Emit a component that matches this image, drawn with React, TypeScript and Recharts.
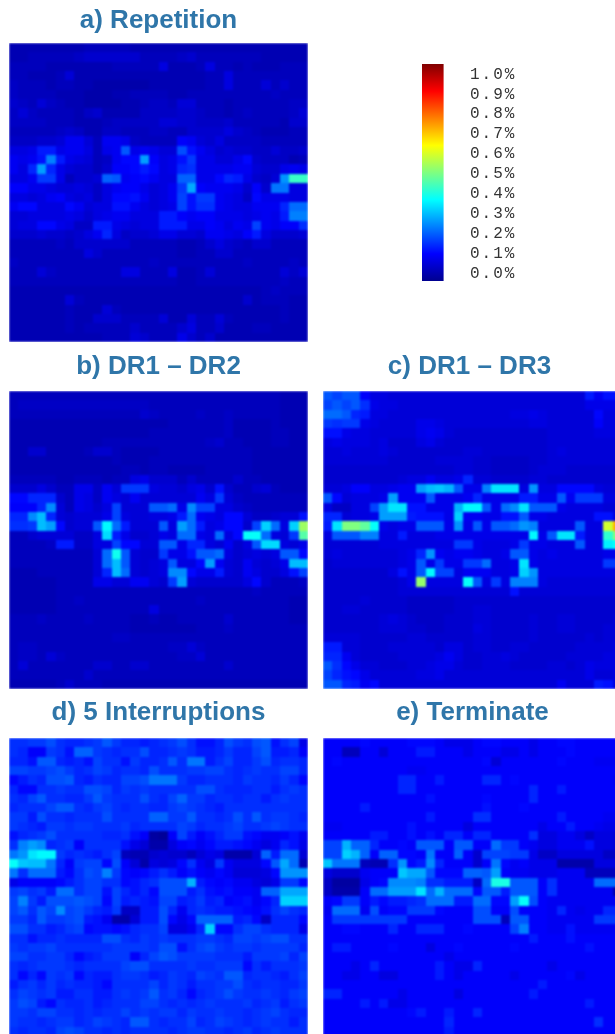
import { Bar, BarChart, Scatter, ScatterChart, XAxis, YAxis } from 'recharts';

// cell values in hundredths of a percent, 32 x 32
const repetition = [
  [4,4,4,4,4,4,4,4,5,5,5,5,5,4,4,4,4,4,4,4,4,4,4,4,4,4,4,4,4,4,4,4],
  [4,4,5,5,5,5,5,6,7,7,7,7,7,7,5,5,5,5,6,7,5,5,5,5,5,5,5,4,4,4,4,4],
  [5,5,5,5,4,4,4,4,4,4,4,5,5,5,5,5,9,4,4,4,5,9,5,5,4,5,4,4,4,5,5,5],
  [5,5,4,4,4,5,8,4,4,4,4,4,4,4,4,4,4,4,4,4,4,5,5,9,5,5,5,5,5,5,5,5],
  [6,5,5,5,4,5,5,4,4,3,3,3,3,3,3,4,4,4,4,4,4,5,5,9,5,5,5,8,5,7,5,5],
  [6,5,5,5,5,4,4,4,3,3,3,4,4,5,5,5,5,4,4,5,5,5,5,5,5,5,5,5,6,5,5,5],
  [7,6,5,8,6,5,4,4,3,3,3,3,4,4,5,6,6,5,8,8,5,5,5,4,5,5,5,5,5,5,6,6],
  [6,8,6,5,5,5,5,4,6,7,4,4,4,4,6,6,6,6,7,7,6,5,5,4,5,6,5,5,5,5,6,8],
  [6,6,6,6,5,5,5,4,4,4,5,6,6,6,6,6,8,8,7,7,6,6,6,7,5,5,5,5,5,4,7,7],
  [5,5,5,5,5,6,7,6,4,4,6,6,5,5,5,6,6,5,5,7,7,7,7,9,7,6,5,4,4,4,5,5],
  [6,6,6,7,7,8,11,11,8,5,11,11,10,6,5,5,5,5,12,11,8,7,9,6,6,6,6,5,5,5,5,5],
  [9,9,10,15,15,10,11,11,9,5,10,11,21,10,11,10,8,8,20,14,11,9,7,8,7,7,6,6,8,6,6,7],
  [11,10,11,14,25,15,10,9,8,5,6,11,13,13,28,12,9,10,14,18,10,10,8,8,10,13,7,6,6,6,4,5],
  [11,9,16,28,16,10,8,7,7,5,7,12,12,13,15,13,9,10,16,17,10,10,10,10,11,11,8,7,7,10,11,10],
  [9,9,11,18,18,10,5,7,7,8,22,21,11,12,13,11,9,9,22,22,10,10,13,16,15,10,7,6,8,27,43,43],
  [12,12,10,10,9,8,8,9,8,6,9,11,12,12,10,8,9,11,18,29,12,11,11,11,10,7,12,7,24,24,9,9],
  [9,9,8,9,11,12,9,8,9,6,9,13,13,14,11,8,9,11,19,14,18,18,11,10,9,6,13,10,10,10,9,9],
  [11,13,13,9,9,9,13,11,8,9,9,14,14,11,9,8,9,10,19,14,17,17,11,10,9,9,11,11,11,16,23,23],
  [8,8,9,9,9,9,10,9,7,9,10,11,11,9,9,9,15,15,12,11,12,12,10,10,10,9,10,11,10,15,25,25],
  [8,9,9,13,13,10,9,6,6,15,15,10,9,8,9,9,15,15,15,10,10,12,11,9,11,10,19,11,10,12,12,17],
  [7,7,7,8,7,7,6,7,9,11,16,9,6,7,7,8,10,10,8,8,7,11,11,10,9,12,15,9,7,7,7,8],
  [5,5,5,5,5,6,5,7,7,7,7,7,7,5,5,5,5,5,4,4,5,7,9,7,6,5,7,7,5,5,5,5],
  [5,5,5,5,5,5,5,5,9,7,5,5,5,5,5,5,5,5,4,4,5,5,7,7,5,5,5,5,5,5,5,5],
  [6,5,5,5,5,5,5,5,5,5,5,5,5,5,5,6,5,5,5,5,5,5,5,5,5,6,5,5,5,5,6,5],
  [5,5,5,8,6,5,5,5,5,5,5,5,9,9,5,5,5,9,4,4,5,8,5,5,5,5,5,5,5,8,6,8],
  [5,5,5,5,5,5,5,5,5,5,5,5,5,5,5,5,5,5,4,4,5,5,5,5,5,5,5,5,5,6,5,5],
  [4,4,4,4,4,4,4,4,4,4,4,4,4,4,4,4,4,4,4,4,4,4,4,4,4,4,4,5,6,5,5,5],
  [4,4,4,4,4,4,8,5,4,4,4,4,4,4,4,4,4,4,4,4,4,4,4,4,4,7,4,5,5,5,4,4],
  [4,4,4,4,4,4,5,4,4,4,8,5,4,4,4,4,4,4,4,4,4,4,4,4,4,4,4,4,4,5,4,4],
  [4,4,4,4,4,4,5,4,4,7,7,7,5,5,5,5,8,4,4,8,5,5,8,5,4,4,4,4,4,5,4,4],
  [4,4,4,4,4,4,5,4,5,5,5,5,5,7,5,5,5,5,7,9,5,5,7,4,4,4,5,5,4,4,4,4],
  [4,4,4,4,4,4,4,4,4,4,5,5,5,8,7,5,5,5,10,7,5,7,4,4,4,4,4,4,4,4,4,4],
];

const dr1Dr2 = [
  [5,5,5,5,5,5,5,5,5,5,5,5,5,5,5,5,5,5,5,5,5,5,5,5,5,5,5,5,5,4,4,4],
  [5,6,6,6,6,6,6,6,6,6,6,6,6,6,6,5,5,5,5,5,5,5,5,5,5,5,5,5,5,4,4,4],
  [5,5,5,5,5,5,5,5,5,5,5,5,5,5,7,6,5,5,5,5,6,5,5,6,5,5,5,5,5,4,4,4],
  [4,4,4,4,4,4,4,4,4,4,4,4,4,4,4,4,4,5,5,5,5,5,5,6,4,4,4,4,5,4,4,4],
  [4,4,4,4,4,4,4,4,4,4,4,4,4,4,4,5,5,5,5,5,5,5,5,6,4,4,4,4,5,5,4,4],
  [4,4,4,4,4,4,4,4,4,4,5,5,5,5,5,5,5,5,5,5,5,6,7,5,5,4,4,4,5,5,4,4],
  [4,4,7,7,4,4,4,4,5,7,7,5,4,4,4,4,5,5,5,5,5,5,5,5,5,5,4,4,4,4,4,4],
  [4,4,4,4,4,4,4,4,4,4,4,5,4,4,4,5,5,5,5,5,5,5,5,5,5,5,4,4,4,4,4,4],
  [4,4,4,4,4,4,4,4,4,4,4,4,5,5,4,5,5,4,4,4,4,5,5,5,5,5,4,4,4,4,4,4],
  [5,5,5,5,5,4,4,5,5,5,4,5,5,9,10,7,7,7,5,7,5,5,5,5,7,5,5,4,4,4,4,4],
  [7,7,7,9,7,5,5,10,10,6,11,8,18,18,18,9,8,8,7,9,10,7,14,7,5,5,7,8,5,4,4,4],
  [13,13,16,16,16,7,5,10,9,6,11,9,8,11,8,8,8,8,8,8,11,9,18,8,6,5,5,5,5,5,5,5],
  [12,12,12,16,26,8,5,10,9,7,9,19,8,8,8,21,21,23,10,26,19,19,9,9,7,6,5,5,5,5,5,5],
  [16,16,26,31,16,8,7,8,8,8,10,19,9,8,8,9,9,10,15,23,11,10,9,13,13,8,6,6,7,8,8,14],
  [17,17,18,31,28,13,7,8,8,21,37,23,15,8,8,8,21,9,28,23,15,9,10,13,13,7,19,33,23,9,33,53],
  [5,5,7,8,8,8,8,6,6,9,34,15,10,7,7,8,10,9,23,23,10,9,23,9,13,38,38,23,9,8,18,46],
  [5,5,5,5,6,15,15,6,6,9,9,19,13,13,8,8,21,21,10,16,16,9,8,11,7,9,21,34,34,9,8,10],
  [5,5,5,5,5,5,5,5,5,8,23,39,21,8,7,7,18,10,10,14,21,21,23,9,7,8,9,8,9,21,21,13],
  [5,5,5,5,5,5,5,5,5,8,23,31,21,8,7,8,9,21,9,9,13,28,11,8,7,11,8,7,8,10,31,31],
  [4,4,4,5,5,5,5,5,5,8,16,31,23,8,7,8,9,26,26,13,10,10,15,8,7,11,9,7,7,9,14,19],
  [4,4,4,4,4,5,5,5,5,10,10,8,8,11,11,8,7,18,28,8,7,7,7,7,7,9,13,7,5,5,5,6],
  [4,4,4,4,4,5,5,5,5,5,5,5,5,5,5,5,5,5,5,5,5,5,5,5,5,5,6,5,5,5,5,5],
  [4,4,4,4,4,5,5,6,5,5,5,5,5,5,5,5,5,5,5,5,6,5,5,5,5,5,5,5,5,5,4,4],
  [4,4,4,4,4,5,5,5,5,5,5,5,5,5,5,9,5,5,5,5,5,5,5,5,5,5,5,5,5,5,4,4],
  [5,5,5,6,5,5,5,5,6,5,5,5,5,4,4,5,4,4,5,5,5,5,5,7,5,5,5,5,5,5,4,4],
  [5,5,5,5,5,5,5,5,5,5,5,5,5,4,4,4,4,4,4,4,5,5,5,6,5,5,5,5,5,5,5,5],
  [5,5,5,5,5,5,5,5,5,5,5,6,6,5,5,5,5,5,5,5,5,5,5,5,5,5,5,5,5,5,5,5],
  [5,6,6,5,5,5,5,5,5,5,5,5,5,5,5,5,5,6,6,8,6,5,5,5,5,5,5,5,5,5,5,5],
  [5,6,6,5,8,6,5,5,5,5,5,5,5,5,5,5,5,5,6,6,8,5,5,5,5,5,5,5,5,5,5,5],
  [5,8,5,5,5,5,5,5,5,7,7,5,5,7,7,5,5,5,5,5,5,5,5,7,5,5,5,5,5,5,5,5],
  [5,5,5,5,5,5,5,5,7,5,5,5,5,5,5,5,5,5,5,5,5,5,5,5,5,5,5,5,5,5,5,5],
  [4,4,4,4,4,5,7,5,5,5,4,4,4,4,4,4,4,4,4,4,4,4,4,4,4,4,4,4,4,4,4,4],
];

const dr1Dr3 = [
  [21,19,21,21,12,9,9,8,8,8,8,8,8,8,8,8,8,8,8,8,8,8,8,8,8,8,8,8,15,11,14,14],
  [19,21,19,21,17,10,9,9,8,8,8,8,8,8,8,8,8,8,8,8,8,8,8,8,8,8,8,8,10,10,10,10],
  [23,23,21,16,15,9,9,8,8,8,8,8,8,8,8,8,8,8,8,8,9,9,10,9,8,8,8,8,8,13,9,9],
  [18,17,18,18,10,9,8,8,8,8,10,10,9,8,8,8,8,8,8,8,8,8,9,9,8,8,8,8,8,12,9,9],
  [14,14,10,9,9,8,8,8,8,8,10,11,10,8,7,7,7,7,7,7,7,7,7,7,8,8,8,8,8,9,9,9],
  [9,10,9,9,9,8,9,7,7,7,9,10,8,7,7,7,7,7,7,7,7,7,7,7,8,8,8,8,8,8,8,8],
  [8,8,9,8,8,8,9,8,7,7,7,7,7,7,7,8,8,7,7,7,7,7,7,7,8,9,8,8,8,8,8,8],
  [8,8,8,8,8,8,8,7,7,7,7,7,8,8,8,8,7,7,6,6,6,6,7,7,8,8,8,8,8,8,8,8],
  [7,7,7,7,7,7,7,7,7,7,7,7,7,7,8,8,7,7,6,6,6,6,7,8,8,8,7,7,7,7,7,7],
  [7,7,7,7,7,7,7,7,8,9,9,11,9,9,10,16,8,8,7,7,7,7,8,8,7,7,7,7,7,7,7,7],
  [8,8,9,12,12,9,9,10,11,11,28,31,32,30,21,10,10,25,35,35,35,9,27,9,9,13,13,13,13,9,8,8],
  [21,13,8,9,9,9,10,28,11,11,11,21,10,10,10,11,16,10,10,10,10,15,15,10,10,21,11,18,18,18,9,9],
  [9,6,6,9,9,19,28,35,35,14,14,10,10,10,30,37,37,21,10,23,26,35,21,21,21,10,9,9,9,9,8,8],
  [16,16,8,9,9,10,28,28,28,15,14,14,14,10,33,11,11,10,10,14,14,21,10,10,9,9,9,9,9,14,14,9],
  [15,35,50,50,47,38,10,9,10,10,21,21,21,10,27,10,21,10,21,21,23,27,25,9,9,9,9,21,9,9,58,70],
  [9,21,21,21,25,25,9,9,15,9,9,9,10,10,10,10,10,10,10,10,10,10,37,10,21,35,35,15,9,9,42,50],
  [8,8,8,8,8,8,9,9,9,9,9,9,9,9,18,18,10,9,9,9,10,18,10,10,9,9,9,21,9,9,36,38],
  [8,9,8,8,8,8,8,8,9,10,16,27,11,10,11,11,10,9,9,10,21,21,10,9,10,9,9,9,9,9,10,10],
  [7,8,8,8,8,8,8,8,9,10,21,10,18,10,10,18,18,23,9,9,10,35,10,9,9,9,9,9,9,9,18,18],
  [7,7,7,7,7,7,7,9,14,10,21,37,19,19,9,11,11,11,9,9,10,33,27,9,9,9,9,9,9,9,9,9],
  [7,7,7,7,7,7,7,7,8,10,52,9,9,9,9,38,21,9,18,9,25,25,25,9,8,8,8,8,8,8,8,8],
  [7,7,7,7,7,7,7,7,8,8,8,8,8,8,8,8,8,8,8,8,14,8,8,8,8,8,8,8,8,8,8,8],
  [7,7,7,7,8,7,7,7,7,6,6,6,6,6,7,7,7,7,7,7,7,7,7,7,7,7,7,7,7,7,7,7],
  [7,7,8,8,7,7,7,7,7,6,6,6,6,6,7,7,8,8,7,7,7,7,7,7,7,7,7,7,7,7,7,7],
  [7,7,7,7,7,7,8,9,8,7,6,6,6,7,7,7,8,8,7,7,7,7,8,7,7,8,8,7,7,7,7,8],
  [7,7,7,7,7,7,8,8,8,7,7,6,6,7,7,7,9,8,7,7,7,7,8,7,7,8,8,7,7,7,8,8],
  [8,8,8,8,7,7,7,7,7,8,8,7,7,7,7,7,8,8,7,7,7,7,8,7,7,7,7,7,8,7,8,8],
  [15,15,8,8,7,7,7,8,8,8,8,8,7,9,9,7,8,8,7,7,8,8,7,7,7,7,7,8,8,8,8,9],
  [16,16,11,8,7,7,7,7,8,8,8,8,9,11,9,7,7,8,8,9,8,7,7,7,7,7,8,8,8,8,9,9],
  [21,17,13,10,8,8,7,7,7,8,8,9,10,10,8,7,7,8,8,8,7,7,7,7,8,8,7,8,10,9,9,9],
  [19,16,14,13,10,8,8,8,8,8,9,9,10,8,8,8,8,8,8,8,8,8,8,8,8,8,8,8,10,8,8,9],
  [21,21,16,15,11,13,8,8,8,8,8,8,8,8,8,8,8,8,8,8,8,8,8,8,8,11,8,8,8,15,14,9],
];

const fiveInterruptions = [
  [17,17,18,18,20,17,16,16,17,18,21,18,16,16,15,16,17,18,20,17,14,14,16,20,18,17,20,21,14,17,19,10],
  [17,16,12,12,18,17,14,22,22,18,17,16,17,17,20,16,16,17,18,17,15,15,16,18,16,16,19,21,15,15,16,12],
  [16,16,14,21,21,16,15,16,14,19,17,17,14,18,16,16,17,21,17,24,24,15,17,19,16,16,18,20,16,17,17,16],
  [19,19,18,18,19,20,18,16,17,19,18,16,17,17,16,20,17,17,17,18,18,19,19,17,16,17,18,17,17,19,19,16],
  [13,15,17,16,20,20,21,16,15,17,16,16,19,19,20,24,24,24,18,16,16,17,17,17,16,18,17,17,16,18,16,13],
  [16,13,13,17,17,18,17,17,20,20,19,16,18,17,18,17,17,17,17,17,20,20,17,16,16,16,17,17,15,17,18,17],
  [17,16,19,21,17,17,16,16,18,21,18,17,17,17,20,17,16,19,22,18,18,16,17,17,16,17,17,15,17,18,17,17],
  [16,17,17,17,19,21,21,17,16,18,19,17,16,17,17,16,16,18,19,18,17,16,15,17,17,17,17,17,17,17,17,17],
  [18,18,15,20,17,17,16,17,17,17,20,17,17,17,17,22,22,18,18,21,17,17,16,17,20,17,21,17,18,18,17,16],
  [18,17,16,15,18,18,17,18,18,17,17,17,18,16,17,17,17,17,19,18,16,17,17,18,19,17,17,18,19,18,17,17],
  [14,16,17,18,20,17,17,17,17,17,16,16,17,14,12,2,1,12,19,15,12,14,16,18,18,14,13,11,11,12,14,11],
  [17,25,28,26,16,17,18,12,17,17,17,17,14,10,8,3,3,9,12,13,11,13,15,15,14,13,11,9,11,16,14,10],
  [24,27,35,37,37,18,16,17,16,15,17,19,5,4,4,7,8,7,7,5,8,10,9,3,3,3,8,22,15,23,23,8],
  [38,32,31,31,24,16,12,18,19,19,13,20,12,8,3,9,8,9,13,17,11,9,18,11,9,9,9,13,21,29,23,4],
  [24,17,23,23,23,15,13,17,20,19,25,18,13,12,13,15,17,15,12,14,12,11,13,11,8,8,8,9,13,27,27,27],
  [10,12,12,12,12,13,15,17,19,19,17,17,13,14,16,17,20,20,20,30,15,13,12,13,11,11,9,8,10,18,18,13],
  [18,19,17,18,15,23,23,17,19,19,14,19,16,14,16,13,20,20,20,15,17,14,13,14,12,12,11,22,22,29,29,29],
  [19,25,18,15,20,20,20,21,20,19,13,19,15,16,15,14,19,19,15,16,18,15,16,12,13,14,11,13,16,33,33,33],
  [19,21,17,21,19,26,19,20,18,16,15,18,6,6,15,15,20,16,11,16,17,16,15,15,14,13,12,14,17,19,17,16],
  [18,18,16,21,18,18,19,20,15,14,11,3,3,8,15,15,20,13,10,13,22,22,22,22,15,16,13,6,16,16,16,13],
  [20,20,17,17,15,16,18,19,13,14,14,13,14,16,17,17,19,9,9,11,16,33,13,13,17,19,19,17,16,16,16,10],
  [17,17,14,16,16,17,16,16,16,16,20,20,17,16,18,17,18,17,17,17,18,18,17,16,19,19,18,19,20,20,17,17],
  [18,17,18,18,19,17,17,17,17,17,17,18,18,18,18,17,20,20,14,17,19,20,18,17,18,18,17,18,18,18,18,16],
  [19,19,17,17,18,18,16,13,15,16,18,18,18,12,16,19,21,20,18,18,18,18,17,17,17,15,18,18,18,19,16,19],
  [17,16,17,18,18,18,17,16,17,17,17,17,19,20,20,17,17,17,17,18,17,17,18,18,18,13,17,15,17,17,17,18],
  [17,13,16,13,18,17,18,13,16,15,15,17,18,18,17,15,16,18,17,16,19,18,17,21,21,16,17,17,16,15,17,19],
  [15,17,18,16,18,16,17,16,16,15,13,17,17,17,17,19,16,18,17,15,17,17,18,18,20,17,16,17,17,16,16,18],
  [17,19,18,17,18,15,15,17,17,15,15,17,18,17,18,21,17,18,16,13,16,17,18,20,18,17,17,18,17,16,18,19],
  [18,20,19,15,13,17,16,16,17,15,16,17,17,17,19,19,17,16,17,16,17,18,17,17,17,18,16,17,18,15,17,18],
  [18,18,17,19,19,17,17,16,17,16,17,17,19,17,18,17,18,18,16,18,17,17,18,17,17,16,17,18,19,17,16,16],
  [18,17,17,16,17,18,18,16,17,19,18,17,16,21,21,17,16,17,17,19,16,17,19,18,17,16,17,18,17,17,15,17],
  [17,16,17,17,16,19,20,19,17,17,16,17,16,17,17,17,17,16,17,18,18,17,17,16,17,18,16,17,18,17,17,17],
];

const terminate = [
  [12,12,12,12,13,12,12,12,12,13,13,13,12,10,10,10,12,13,13,12,12,12,10,12,12,13,13,12,12,12,12,12],
  [12,12,5,5,12,12,8,12,12,12,15,15,12,12,12,10,12,12,12,10,10,12,10,12,12,12,13,12,12,12,12,12],
  [12,13,12,12,12,12,12,12,12,12,12,12,12,12,12,12,12,13,8,12,12,12,12,12,12,13,12,12,12,11,11,11],
  [12,12,12,12,12,12,12,12,12,11,11,12,12,12,12,12,12,12,12,12,12,12,12,12,12,12,12,12,12,12,12,12],
  [12,12,12,12,12,12,12,12,16,16,12,12,15,12,12,12,12,16,16,12,13,12,12,12,12,12,12,12,12,12,12,11],
  [12,12,12,12,12,12,12,12,16,16,12,12,12,12,12,12,12,12,12,12,12,12,16,12,12,15,12,12,12,12,12,12],
  [12,12,12,12,12,12,12,12,12,12,12,14,12,12,12,12,12,13,12,12,12,12,16,12,12,12,12,12,12,12,12,12],
  [12,12,12,12,15,12,12,12,12,12,12,12,12,12,12,12,12,14,12,12,12,13,12,12,12,12,12,12,12,12,12,12],
  [12,12,12,12,12,12,12,12,12,12,12,15,12,12,12,12,17,17,12,12,12,12,12,12,12,15,12,12,12,12,11,11],
  [11,11,12,12,12,12,12,12,12,14,12,12,12,12,12,9,12,12,12,12,12,12,12,10,12,12,15,12,12,11,10,10],
  [12,12,12,12,12,15,15,12,12,14,12,14,12,16,16,12,16,16,12,12,12,12,17,9,9,11,11,9,6,9,9,8],
  [19,19,30,22,22,16,12,12,13,12,21,21,21,12,21,21,12,12,23,18,18,12,11,9,9,11,11,11,14,9,9,8],
  [19,19,33,30,22,12,22,22,13,13,12,24,12,12,22,12,7,19,19,19,18,18,10,6,6,9,9,9,9,9,6,6],
  [32,24,24,24,5,4,4,17,27,13,15,26,16,12,12,12,7,12,24,13,11,12,10,10,10,3,3,3,3,9,9,9],
  [9,7,7,7,11,12,12,12,32,29,29,21,13,13,13,22,22,21,28,12,11,11,10,10,10,11,11,11,5,5,5,5],
  [6,2,2,2,10,12,13,26,26,26,25,17,17,15,15,15,6,23,40,40,21,21,21,12,17,11,11,11,11,23,23,23],
  [6,3,3,3,12,23,23,28,28,28,35,23,30,23,23,23,13,21,21,15,21,21,21,12,17,11,11,11,11,11,11,3],
  [12,13,18,18,12,15,13,15,15,16,17,23,23,23,15,15,23,23,13,13,28,38,20,12,11,11,11,11,11,11,11,11],
  [11,23,23,23,11,20,12,13,13,18,18,18,13,12,12,12,20,20,12,12,20,12,12,12,11,16,11,10,11,11,16,16],
  [12,18,18,18,18,18,18,18,18,12,12,12,12,12,12,12,20,20,20,5,21,21,12,12,11,11,11,11,11,18,18,18],
  [12,12,13,13,12,12,12,16,12,12,16,16,16,12,12,13,12,12,12,12,19,25,12,12,11,11,14,11,11,11,11,11],
  [12,12,12,12,12,12,12,12,12,12,12,12,12,12,12,12,12,12,12,12,12,12,15,12,12,12,14,12,12,12,12,12],
  [12,15,15,12,12,12,12,13,12,12,12,9,12,12,13,12,12,12,12,12,13,12,12,12,12,12,12,12,14,12,12,12],
  [12,12,12,12,12,12,12,12,12,12,12,12,12,10,12,12,12,12,12,12,12,12,12,12,12,12,12,12,12,12,12,12],
  [12,12,12,10,12,16,12,12,12,12,12,12,15,12,10,10,16,12,12,12,12,12,12,12,10,12,12,12,12,12,12,12],
  [12,12,10,10,12,12,9,9,12,12,12,12,15,12,10,12,12,12,12,12,10,12,12,12,12,12,13,10,12,12,12,12],
  [12,12,12,12,12,12,12,12,12,12,12,12,12,12,12,12,12,12,12,12,12,12,12,15,12,12,12,12,12,12,12,12],
  [16,16,12,12,12,12,12,12,10,12,12,12,12,12,9,12,12,12,12,12,12,12,15,12,12,12,12,12,12,12,12,12],
  [12,12,12,12,15,12,15,10,10,12,12,12,12,12,12,12,12,12,12,12,12,12,12,12,12,12,12,12,15,12,12,12],
  [12,12,12,12,12,12,12,12,12,13,15,12,12,15,12,12,16,12,12,12,12,12,12,12,12,12,12,12,12,12,12,12],
  [12,12,12,12,12,12,12,12,12,12,12,12,12,16,12,12,12,12,12,12,12,12,12,12,12,12,12,12,12,17,12,12],
  [12,12,12,12,12,12,12,12,12,12,12,12,12,15,12,12,12,12,12,12,12,12,12,12,12,12,12,12,12,12,12,12],
];

const colorbarTicks = [0, 0.1, 0.2, 0.3, 0.4, 0.5, 0.6, 0.7, 0.8, 0.9, 1.0];
const jetStops = [
  { at: 0, rgb: [0, 0, 143] },
  { at: 0.125, rgb: [0, 0, 255] },
  { at: 0.375, rgb: [0, 255, 255] },
  { at: 0.625, rgb: [255, 255, 0] },
  { at: 0.875, rgb: [255, 0, 0] },
  { at: 1, rgb: [128, 0, 0] },
];

const PANEL = 299;
const GRID = 32;
const CELL = PANEL / GRID;
const titleColor = '#2f76a9';

function jet(v: number) {
  const t = Math.min(1, Math.max(0, v));
  let i = 0;
  while (i < jetStops.length - 2 && t > jetStops[i + 1].at) i++;
  const a = jetStops[i];
  const b = jetStops[i + 1];
  const k = (t - a.at) / (b.at - a.at);
  const c = a.rgb.map((n, j) => Math.round(n + (b.rgb[j] - n) * k));
  return `rgb(${c[0]},${c[1]},${c[2]})`;
}

function toCells(rows: number[][]) {
  return rows.flatMap((row, y) => row.map((value, x) => ({ x: x + 0.5, y: y + 0.5, value })));
}

function HeatCell(props: any) {
  return (
    <rect
      x={props.cx - CELL / 2}
      y={props.cy - CELL / 2}
      width={CELL + 1}
      height={CELL + 1}
      shapeRendering="crispEdges"
      fill={jet(props.payload.value / 100)}
    />
  );
}

function Panel({ title, rows, left, top, height, titleTop, titleShift = 0 }: any) {
  const clipWidth = Math.min(PANEL, 615 - left);
  return (
    <>
      <div
        style={{
          position: 'absolute',
          left: left + titleShift - 20,
          top: titleTop,
          width: PANEL + 40,
          textAlign: 'center',
          color: titleColor,
          font: 'bold 26px "Liberation Sans"',
          lineHeight: '24px',
          whiteSpace: 'nowrap',
          filter: 'blur(0.5px)',
        }}
      >
        {title}
      </div>
      <div style={{ position: 'absolute', left, top, width: clipWidth, height, overflow: 'hidden' }}>
        <div style={{ filter: 'blur(0.8px)', width: PANEL, height }}>
          <ScatterChart width={PANEL} height={height} margin={{ top: 0, right: 0, bottom: 0, left: 0 }}>
            <XAxis type="number" dataKey="x" domain={[0, GRID]} hide />
            <YAxis type="number" dataKey="y" domain={[0, GRID]} reversed hide />
            <Scatter data={toCells(rows)} shape={HeatCell} isAnimationActive={false} />
          </ScatterChart>
        </div>
      </div>
    </>
  );
}

function Colorbar() {
  const data = [{ name: 'scale', range: [-0.04, 1.05] }];
  return (
    <div style={{ position: 'absolute', left: 421, top: 64, filter: 'blur(0.5px)' }}>
      <BarChart width={140} height={217} data={data} margin={{ top: 0, right: 0, bottom: 0, left: 0 }}>
        <defs>
          <linearGradient id="jetBar" x1="0" y1="1" x2="0" y2="0">
            {jetStops.map((s) => (
              <stop key={s.at} offset={s.at} stopColor={jet(s.at)} />
            ))}
          </linearGradient>
        </defs>
        <XAxis dataKey="name" hide />
        <YAxis
          orientation="right"
          width={116}
          domain={[-0.04, 1.05]}
          ticks={colorbarTicks}
          interval={0}
          axisLine={false}
          tickLine={false}
          tickMargin={0}
          tick={{ fill: '#333', fontFamily: 'Liberation Mono', fontSize: 16, letterSpacing: 2, textAnchor: 'start', dx: 19, dy: -1 } as any}
          tickFormatter={(v: number) => `${v.toFixed(1)}%`}
        />
        <Bar dataKey="range" barSize={24} fill="url(#jetBar)" isAnimationActive={false} />
      </BarChart>
    </div>
  );
}

export default function App() {
  return (
    <div style={{ position: 'absolute', left: 0, top: 0, width: 615, height: 1034, overflow: 'hidden', background: '#fff' }}>
      <Panel title="a) Repetition" rows={repetition} left={9} top={43} height={299} titleTop={7} />
      <Colorbar />
      <Panel title="b) DR1 – DR2" rows={dr1Dr2} left={9} top={391} height={298} titleTop={353} />
      <Panel title="c) DR1 – DR3" rows={dr1Dr3} left={323} top={391} height={298} titleTop={353} titleShift={-3} />
      <Panel title="d) 5 Interruptions" rows={fiveInterruptions} left={9} top={738} height={298} titleTop={699} />
      <Panel title="e) Terminate" rows={terminate} left={323} top={738} height={298} titleTop={699} />
    </div>
  );
}
